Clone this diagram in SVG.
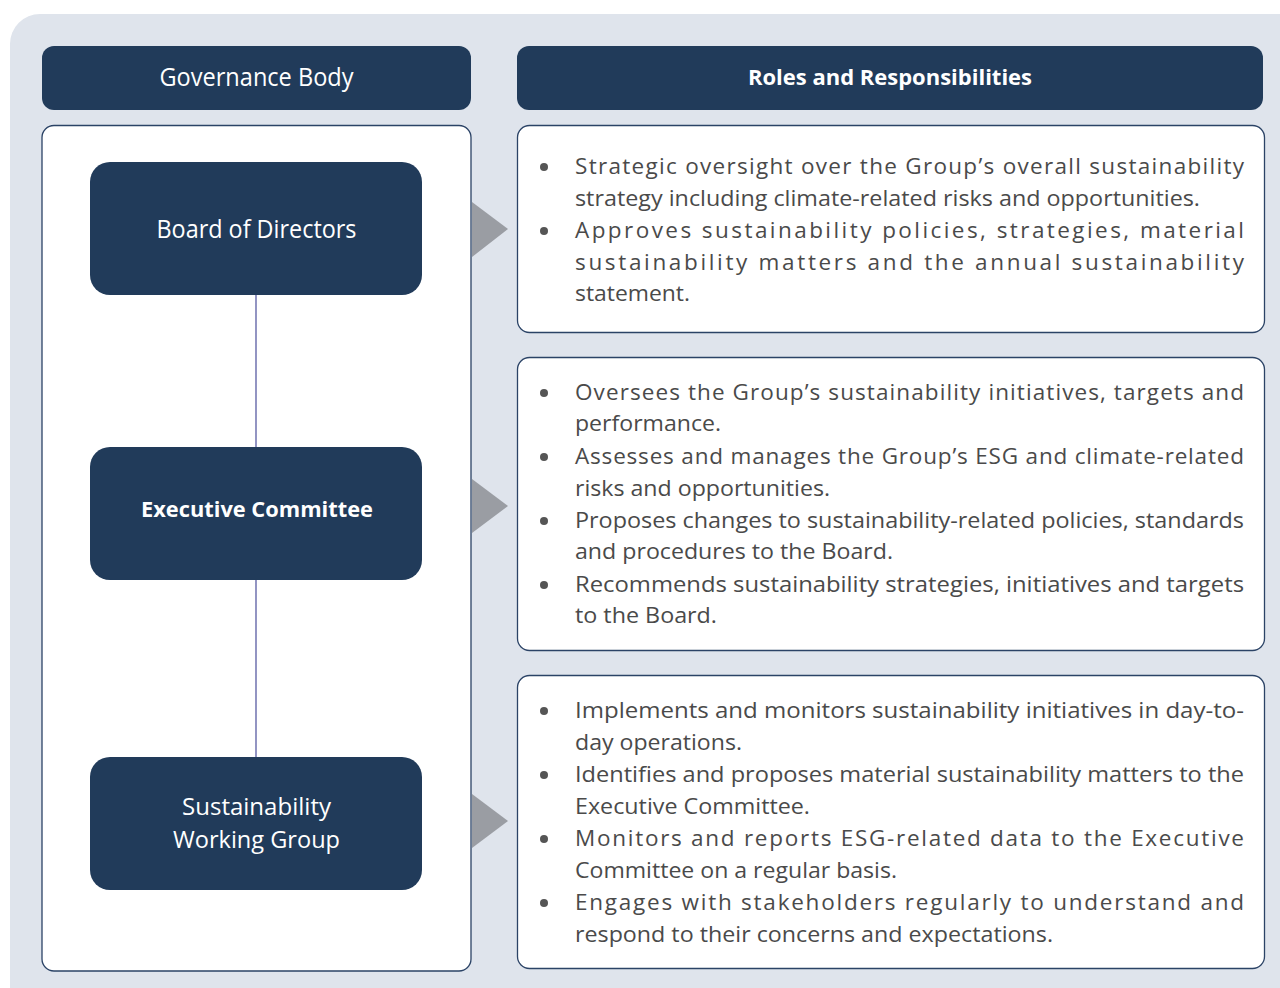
<svg xmlns="http://www.w3.org/2000/svg" width="1280" height="988" viewBox="0 0 1280 988">
<style>
.bg{fill:#DFE4EC}
.hdr{fill:#213B5A}
.panel{fill:#FFFFFF;stroke:#2B4366;stroke-width:1.3}
.node{fill:#213B5A}
.ht{font-family:"Open Sans","Liberation Sans",sans-serif;fill:#FFFFFF;text-anchor:middle}
.bt{font-family:"Open Sans","Liberation Sans",sans-serif;font-size:22.5px;fill:#4A4A4A}
.dot{fill:#555555}
.tri{fill:#9A9DA3}
.conn{stroke:#4A4E9A;stroke-width:1.2;fill:none}
</style>
<rect class="bg" x="10" y="14" width="1320" height="1020" rx="30"/>

<g id="header-governance">
<rect class="hdr" x="42" y="46" width="429" height="64" rx="12"/>
<text class="ht" x="256.5" y="86" font-size="26" textLength="194" lengthAdjust="spacingAndGlyphs">Governance Body</text>
</g>
<g id="header-roles">
<rect class="hdr" x="517" y="46" width="746" height="64" rx="12"/>
<text class="ht" x="890" y="85" font-size="22" font-weight="bold" textLength="284" lengthAdjust="spacingAndGlyphs">Roles and Responsibilities</text>
</g>

<g id="governance-panel">
<rect class="panel" x="42" y="125.5" width="429" height="845.5" rx="12"/>
</g>

<g id="connectors">
<line class="conn" x1="256" y1="295" x2="256" y2="447"/>
<line class="conn" x1="256" y1="580" x2="256" y2="757"/>
<polygon class="tri" points="472,202 508,229 472,257"/>
<polygon class="tri" points="472,479 508,506 472,533"/>
<polygon class="tri" points="472,794 508,821 472,848"/>
</g>

<g id="node-board">
<rect class="node" x="90" y="162" width="332" height="133" rx="20"/>
<text class="ht" x="256.5" y="238" font-size="26" textLength="200" lengthAdjust="spacingAndGlyphs">Board of Directors</text>
</g>
<g id="node-exco">
<rect class="node" x="90" y="447" width="332" height="133" rx="20"/>
<text class="ht" x="257" y="517" font-size="22" font-weight="bold" textLength="232" lengthAdjust="spacingAndGlyphs">Executive Committee</text>
</g>
<g id="node-swg">
<rect class="node" x="90" y="757" width="332" height="133" rx="20"/>
<text class="ht" x="256.5" y="815" font-size="24" textLength="149" lengthAdjust="spacingAndGlyphs">Sustainability</text>
<text class="ht" x="256.5" y="848" font-size="24" textLength="167" lengthAdjust="spacingAndGlyphs">Working Group</text>
</g>

<g id="roles-board">
<rect class="panel" x="517.5" y="125.5" width="747" height="207" rx="12"/>
<circle class="dot" cx="544" cy="167" r="4"/>
<circle class="dot" cx="544" cy="231" r="4"/>
<text class="bt" x="575" y="174" textLength="669" lengthAdjust="spacing">Strategic oversight over the Group’s overall sustainability</text>
<text class="bt" x="575" y="206" textLength="625" lengthAdjust="spacingAndGlyphs">strategy including climate-related risks and opportunities.</text>
<text class="bt" x="575" y="238" textLength="669" lengthAdjust="spacing">Approves sustainability policies, strategies, material</text>
<text class="bt" x="575" y="270" textLength="669" lengthAdjust="spacing">sustainability matters and the annual sustainability</text>
<text class="bt" x="575" y="301" textLength="115" lengthAdjust="spacingAndGlyphs">statement.</text>
</g>

<g id="roles-exco">
<rect class="panel" x="517.5" y="357.5" width="747" height="293" rx="12"/>
<circle class="dot" cx="544" cy="393" r="4"/>
<circle class="dot" cx="544" cy="457" r="4"/>
<circle class="dot" cx="544" cy="521" r="4"/>
<circle class="dot" cx="544" cy="585" r="4"/>
<text class="bt" x="575" y="400" textLength="669" lengthAdjust="spacing">Oversees the Group’s sustainability initiatives, targets and</text>
<text class="bt" x="575" y="431" textLength="146" lengthAdjust="spacingAndGlyphs">performance.</text>
<text class="bt" x="575" y="464" textLength="669" lengthAdjust="spacing">Assesses and manages the Group’s ESG and climate-related</text>
<text class="bt" x="575" y="496" textLength="255" lengthAdjust="spacingAndGlyphs">risks and opportunities.</text>
<text class="bt" x="575" y="528" textLength="669" lengthAdjust="spacingAndGlyphs">Proposes changes to sustainability-related policies, standards</text>
<text class="bt" x="575" y="559" textLength="318" lengthAdjust="spacingAndGlyphs">and procedures to the Board.</text>
<text class="bt" x="575" y="592" textLength="669" lengthAdjust="spacingAndGlyphs">Recommends sustainability strategies, initiatives and targets</text>
<text class="bt" x="575" y="623" textLength="142" lengthAdjust="spacingAndGlyphs">to the Board.</text>
</g>

<g id="roles-swg">
<rect class="panel" x="517.5" y="675.5" width="747" height="293" rx="12"/>
<circle class="dot" cx="544" cy="711" r="4"/>
<circle class="dot" cx="544" cy="775" r="4"/>
<circle class="dot" cx="544" cy="839" r="4"/>
<circle class="dot" cx="544" cy="903" r="4"/>
<text class="bt" x="575" y="718" textLength="669" lengthAdjust="spacingAndGlyphs">Implements and monitors sustainability initiatives in day-to-</text>
<text class="bt" x="575" y="750" textLength="167" lengthAdjust="spacingAndGlyphs">day operations.</text>
<text class="bt" x="575" y="782" textLength="669" lengthAdjust="spacingAndGlyphs">Identifies and proposes material sustainability matters to the</text>
<text class="bt" x="575" y="814" textLength="235" lengthAdjust="spacingAndGlyphs">Executive Committee.</text>
<text class="bt" x="575" y="846" textLength="669" lengthAdjust="spacing">Monitors and reports ESG-related data to the Executive</text>
<text class="bt" x="575" y="878" textLength="322" lengthAdjust="spacingAndGlyphs">Committee on a regular basis.</text>
<text class="bt" x="575" y="910" textLength="669" lengthAdjust="spacing">Engages with stakeholders regularly to understand and</text>
<text class="bt" x="575" y="942" textLength="478" lengthAdjust="spacingAndGlyphs">respond to their concerns and expectations.</text>
</g>
</svg>
